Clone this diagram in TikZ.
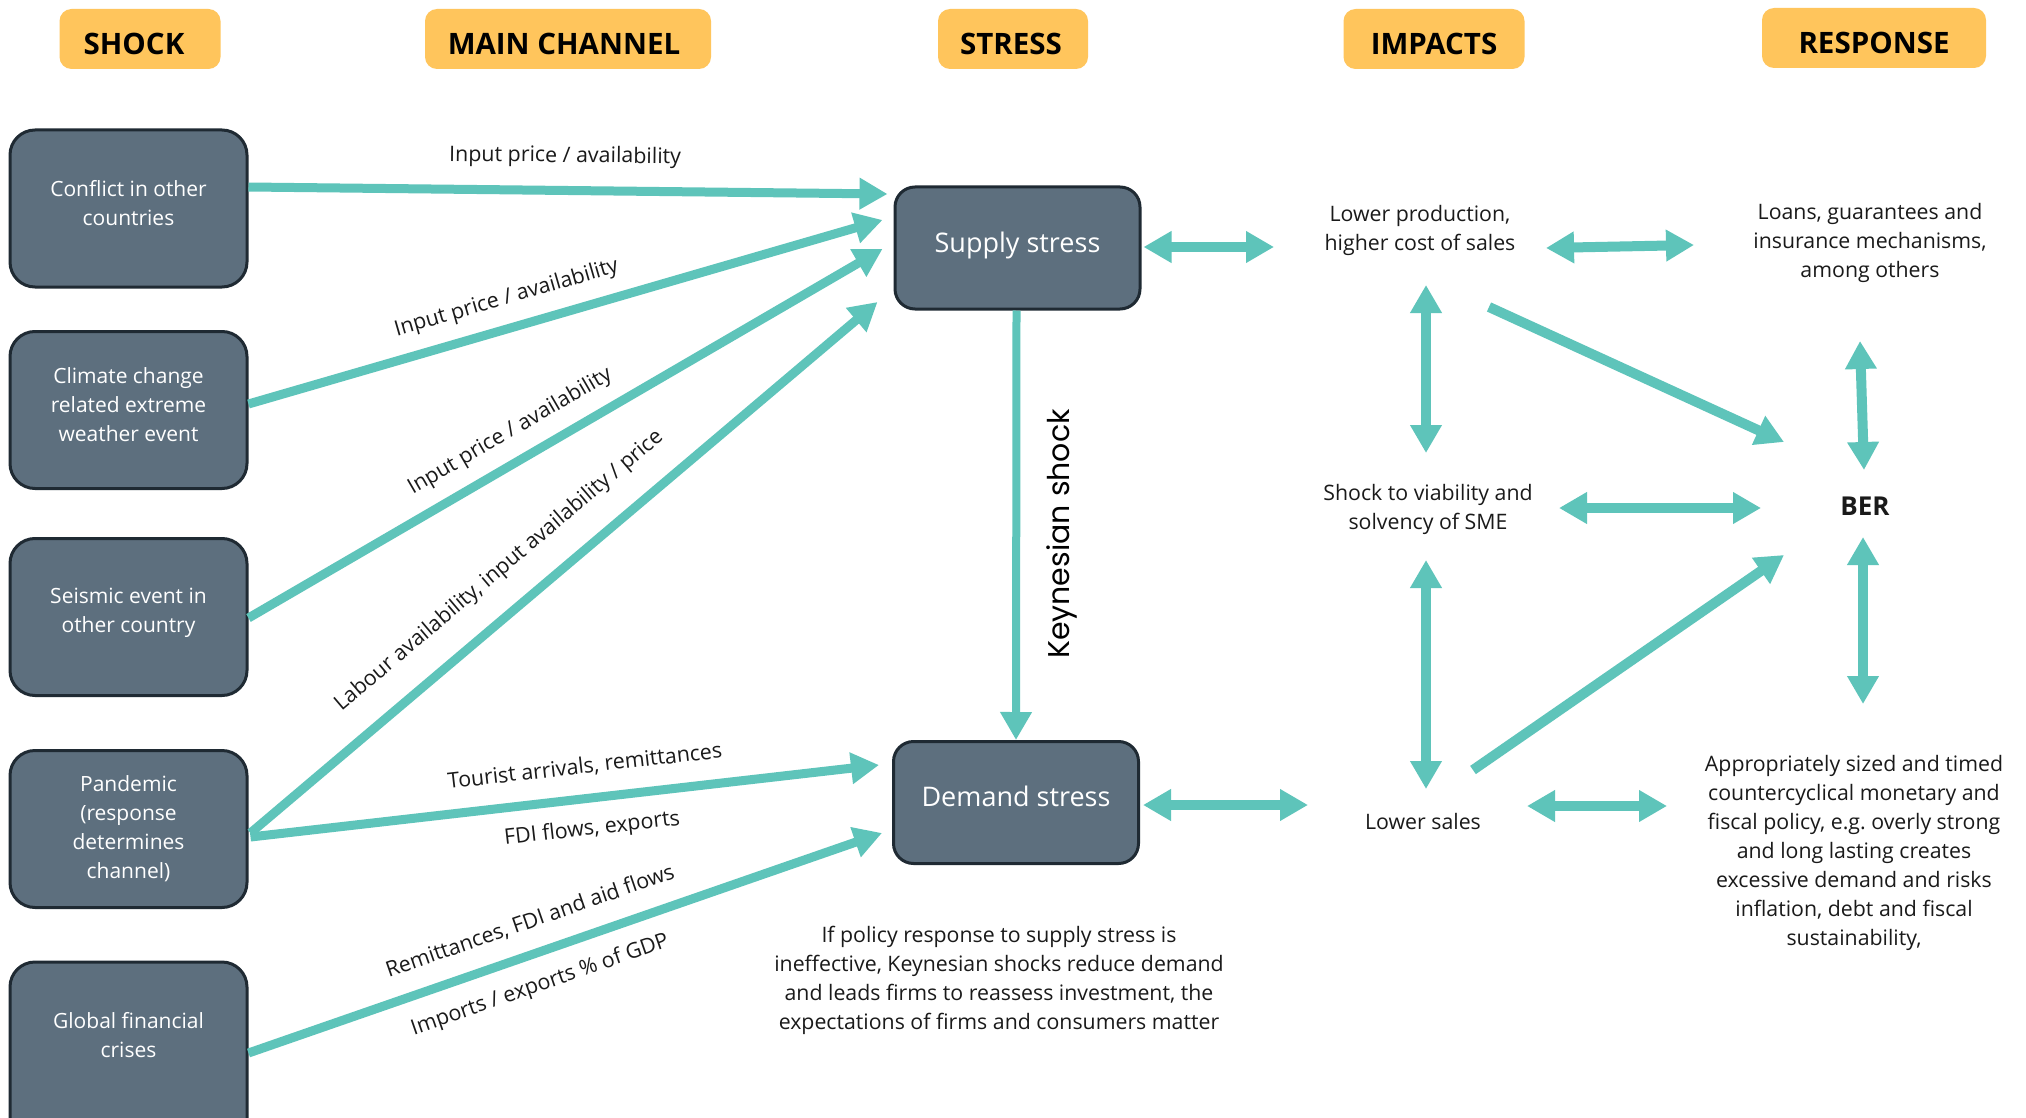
\documentclass[tikz,border=0pt]{standalone}
\usepackage{fontspec}
\setmainfont{Open Sans}
\newfontfamily\kfont{Poppins}
\usetikzlibrary{arrows.meta,calc}
\definecolor{arrcol}{HTML}{5EC4BA}
\definecolor{boxfill}{HTML}{5D6F7E}
\definecolor{boxline}{HTML}{1F2A33}
\definecolor{hdrcol}{HTML}{FFC55C}
\definecolor{txtcol}{HTML}{1A1A1A}
\newcommand\hdtxt[1]{\raisebox{-5pt}[\height][\depth]{#1}}
\begin{document}
\begin{tikzpicture}[x=1pt,y=-1pt,
 hdr/.style={fill=hdrcol, rounded corners=12pt, minimum height=60pt, inner sep=0pt, text=black, font=\bfseries\fontsize{29.5}{34}\selectfont},
 sbox/.style={fill=boxfill, draw=boxline, line width=3pt, rounded corners=25pt, minimum width=237pt, minimum height=157pt, inner sep=0pt},
 stressbox/.style={sbox, minimum width=245pt, minimum height=122pt, rounded corners=20pt},
 wtxt/.style={align=center, inner sep=0pt, text=white, font=\fontsize{21}{29}\selectfont},
 stxt/.style={inner sep=0pt, text=white, font=\fontsize{27}{32}\selectfont},
 txt/.style={align=center, inner sep=0pt, font=\fontsize{21.3}{29}\selectfont, text=txtcol},
 lab/.style={inner sep=0pt, sloped, font=\fontsize{21.4}{26}\selectfont, text=txtcol},
 arr/.style={draw=arrcol, line width=9pt, -{Triangle[length=28pt,width=30pt]}},
 darr/.style={draw=arrcol, line width=10pt, {Triangle[length=28pt,width=30pt]}-{Triangle[length=28pt,width=30pt]}},
]
\useasboundingbox (0,0) rectangle (2026,1118);
\fill[white] (0,0) rectangle (2026,1118);

% headers
\node[hdr, minimum width=161pt] (hShock) at (140,39) {\hspace*{-12pt}\hdtxt{SHOCK}};
\node[hdr, minimum width=286pt] (hMain) at (568,39) {\hspace*{-8pt}\hdtxt{MAIN CHANNEL}};
\node[hdr, minimum width=150pt] (hStress) at (1013,39) {\hspace*{-4pt}\hdtxt{STRESS}};
\node[hdr, minimum width=181pt] (hImp) at (1434,39) {\hdtxt{IMPACTS}};
\node[hdr, minimum width=224pt] (hResp) at (1874,38) {\hdtxt{RESPONSE}};

% shocks
\node[sbox] (conflict) at (128.5,208.5) {};
\node[wtxt] (conflictT) at (128.5,203.5) {Conflict in other\\countries};
\node[sbox] (climate) at (128.5,410) {};
\node[wtxt] (climateT) at (128.5,404.5) {Climate change\\related extreme\\weather event};
\node[sbox] (seismic) at (128.5,617) {};
\node[wtxt] (seismicT) at (128.5,613) {Seismic event in\\other country};
\node[sbox] (pandemic) at (128.5,829) {};
\node[wtxt] (pandemicT) at (128.5,829) {Pandemic\\(response\\determines\\channel)};
\node[sbox, minimum height=200pt] (gfc) at (128.5,1062) {};
\node[wtxt] (gfcT) at (128.5,1035) {Global financial\\crises};

% stress
\node[stressbox] (supply) at (1017.5,248) {};
\node[stxt] (supplyT) at (1017.5,245) {Supply stress};
\node[stressbox] (demand) at (1016,802.5) {};
\node[stxt] (demandT) at (1016,796.5) {Demand stress};

% impacts / response texts
\node[txt] (lowprod) at (1420,230.5) {Lower production,\\higher cost of sales};
\node[txt] (loans) at (1870,243) {Loans, guarantees and\\insurance mechanisms,\\among others};
\node[txt] (shock) at (1428,509.5) {Shock to viability and\\solvency of SME};
\node[txt, font=\bfseries\fontsize{26}{30}\selectfont] (ber) at (1865,506) {BER};
\node[txt] (lowsales) at (1423,822) {Lower sales};
\node[txt] (approp) at (1854,852.5) {Appropriately sized and timed\\countercyclical monetary and\\fiscal policy, e.g.\ overly strong\\and long lasting creates\\excessive demand and risks\\inflation, debt and fiscal\\sustainability,};
\node[txt] (note) at (999,980) {If policy response to supply stress is\\ineffective, Keynesian shocks reduce demand\\and leads firms to reassess investment, the\\expectations of firms and consumers matter};

% channels
\draw[arr] ($(conflict.east)+(0,-21.5)$) -- node[lab, pos=0.495, above=18.5pt] {Input price / availability} ($(supply.west)+(-6,-54)$);
\draw[arr] ($(climate.east)+(0,-6)$) -- node[lab, pos=0.42, above=14pt] {Input price / availability} ($(supply.west)+(-11,-28)$);
\draw[arr] ($(seismic.east)+(0,1)$) -- node[lab, pos=0.436, above=14pt] {Input price / availability} ($(supply.west)+(-11,1)$);
\draw[arr] ($(pandemic.east)+(2,4)$) -- node[lab, pos=0.437, above=24pt] {Labour availability, input availability / price} ($(supply.west)+(-16,54)$);
\draw[arr] ($(pandemic.east)+(2,8)$) -- node[lab, pos=0.538, above=18pt] {Tourist arrivals, remittances} node[lab, pos=0.538, below=16pt] {FDI flows, exports} ($(demand.west)+(-13,-37.5)$);
\draw[arr] ($(gfc.east)+(0,-9)$) -- node[lab, pos=0.461, above=18pt] {Remittances, FDI and aid flows} node[lab, pos=0.444, below=16.5pt] {Imports / exports \% of GDP} ($(demand.west)+(-10,30.5)$);

% Keynesian shock
\draw[arr, line width=8pt] ([xshift=-1pt]supply.south) -- (demand.north);
\node[rotate=90, inner sep=0pt, text=black, font=\kfont\fontsize{30}{32}\selectfont] (klab) at (1062,534) {Keynesian shock};

% impacts and responses
\draw[darr] ($(supply.east)+(2,-1)$) -- ($(lowprod.center)+(-146,16.5)$);
\draw[darr] ($(lowprod.center)+(126,17.5)$) -- ($(loans.center)+(-176,2)$);
\draw[darr] ($(lowprod.center)+(6,54.5)$) -- ($(shock.center)+(-2,-56.5)$);
\draw[arr, line width=10pt] ($(lowprod.center)+(69,76.5)$) -- ($(ber.center)+(-81,-64)$);
\draw[darr] ($(loans.center)+(-10,98)$) -- ($(ber.center)+(-1,-36)$);
\draw[darr] ($(shock.center)+(131,-1.5)$) -- ($(ber.center)+(-104,2)$);
\draw[darr] ($(ber.center)+(-2,31)$) -- ($(approp.center)+(9,-148.5)$);
\draw[darr] ($(shock.center)+(-2,50.5)$) -- ($(lowsales.center)+(3,-33)$);
\draw[arr, line width=10pt] ($(lowsales.center)+(50,-52)$) -- ($(ber.center)+(-81,49)$);
\draw[darr] ($(demand.east)+(3,2.5)$) -- ($(lowsales.center)+(-115,-17)$);
\draw[darr] ($(lowsales.center)+(104,-16)$) -- ($(approp.center)+(-187,-46.5)$);
\end{tikzpicture}
\end{document}
